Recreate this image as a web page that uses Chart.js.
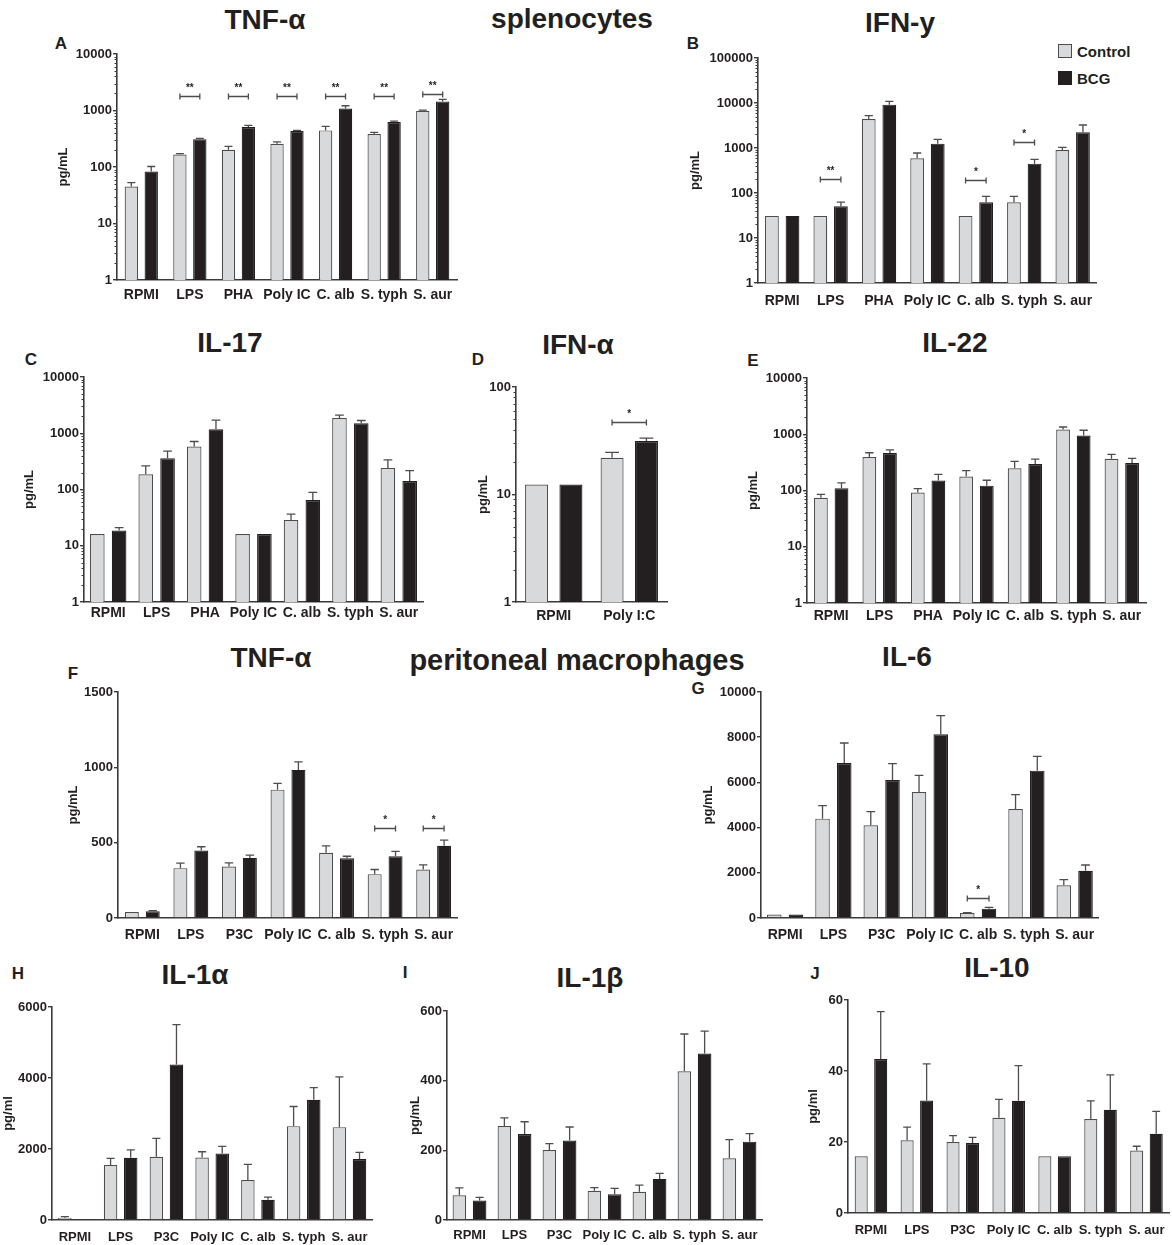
<!DOCTYPE html>
<html>
<head>
<meta charset="utf-8">
<script src="https://cdn.jsdelivr.net/npm/chart.js@4.4.1/dist/chart.umd.min.js"></script>
<style>
  html, body { margin: 0; padding: 0; background: #fff; }
  body { width: 1172px; height: 1245px; overflow: hidden; position: relative;
         font-family: "Liberation Sans", Arial, sans-serif; color: #231f20; }
  .box { position: absolute; }
  .t { position: absolute; font-weight: bold; font-size: 28px; line-height: 1;
       transform: translate(-50%, -50%); white-space: nowrap; }
  .l { position: absolute; font-weight: bold; font-size: 17px; line-height: 1;
       transform: translate(-50%, -50%); }
  .lg { position: absolute; font-weight: bold; font-size: 15px; line-height: 1;
        transform: translateY(-50%); white-space: nowrap; }
  .sw { position: absolute; width: 12px; height: 12px; border: 1px solid #4d4d4d; }
</style>
</head>
<body>

<div class="t" style="left:265px;top:20px">TNF-α</div>
<div class="t" style="left:572px;top:19px">splenocytes</div>
<div class="t" style="left:900px;top:23px">IFN-y</div>
<div class="t" style="left:230px;top:343px">IL-17</div>
<div class="t" style="left:578px;top:345px">IFN-α</div>
<div class="t" style="left:955px;top:343px">IL-22</div>
<div class="t" style="left:271px;top:658px">TNF-α</div>
<div class="t" style="left:577px;top:660px;font-size:29px">peritoneal macrophages</div>
<div class="t" style="left:907px;top:657px">IL-6</div>
<div class="t" style="left:195px;top:975px">IL-1α</div>
<div class="t" style="left:590px;top:978px">IL-1β</div>
<div class="t" style="left:997px;top:968px">IL-10</div>

<div class="l" style="left:61px;top:43px">A</div>
<div class="l" style="left:693px;top:43px">B</div>
<div class="l" style="left:31px;top:359px">C</div>
<div class="l" style="left:478px;top:359px">D</div>
<div class="l" style="left:753px;top:360px">E</div>
<div class="l" style="left:73px;top:673px">F</div>
<div class="l" style="left:698px;top:688px">G</div>
<div class="l" style="left:18px;top:973px">H</div>
<div class="l" style="left:405px;top:972px">I</div>
<div class="l" style="left:815px;top:973px">J</div>

<div class="sw" style="left:1058px;top:44px;background:#d8d9db"></div>
<div class="lg" style="left:1077px;top:51px">Control</div>
<div class="sw" style="left:1058px;top:71px;background:#231f20;border-color:#231f20"></div>
<div class="lg" style="left:1077px;top:78px">BCG</div>

<script>
// categories
const stimSpl = ['RPMI', 'LPS', 'PHA', 'Poly IC', 'C. alb', 'S. typh', 'S. aur'];
const stimMac = ['RPMI', 'LPS', 'P3C', 'Poly IC', 'C. alb', 'S. typh', 'S. aur'];
const stimIfna = ['RPMI', 'Poly I:C'];

// y tick labels
const log2 = [1, 10, 100];
const log4 = [1, 10, 100, 1000, 10000];
const log5 = [1, 10, 100, 1000, 10000, 100000];
const tnfMacTicks = [0, 500, 1000, 1500];
const il6Ticks = [0, 2000, 4000, 6000, 8000, 10000];
const il1aTicks = [0, 2000, 4000, 6000];
const il1bTicks = [0, 200, 400, 600];
const il10Ticks = [0, 20, 40, 60];

// A TNF-a splenocytes (mean, top of error bar)
const tnfCtrl = [45, 166, 201, 258, 444, 382, 990];
const tnfCtrlErr = [53, 172, 231, 279, 522, 409, 1016];
const tnfBcg = [83, 311, 508, 432, 1088, 623, 1449];
const tnfBcgErr = [102, 322, 544, 444, 1214, 649, 1573];
const tnfSig = [null, '**', '**', '**', '**', '**', '**'];
const tnfSigAt = [null, 1820, 1820, 1820, 1820, 1820, 1980];

// B IFN-y
const ifngCtrl = [31, 31, 4410, 590, 31, 62, 903];
const ifngCtrlErr = [null, null, 5230, 774, null, 84, 1035];
const ifngBcg = [31, 51, 9180, 1248, 62, 449, 2230];
const ifngBcgErr = [null, 63, 10900, 1560, 84, 560, 3245];
const ifngSig = [null, '**', null, null, '*', '*', null];
const ifngSigAt = [null, 205, null, null, 198, 1336, null];

// C IL-17
const il17Ctrl = [16.1, 186, 580, 16.1, 28.6, 1858, 242];
const il17CtrlErr = [null, 262, 713, null, 36.6, 2100, 336];
const il17Bcg = [18.7, 360, 1183, 16.1, 65, 1513, 142];
const il17BcgErr = [21, 480, 1711, null, 89, 1686, 217];

// D IFN-a
const ifnaCtrl = [12.4, 22.0];
const ifnaCtrlErr = [null, 24.7];
const ifnaBcg = [12.4, 31.5];
const ifnaBcgErr = [null, 33.4];
const ifnaSig = [null, '*'];
const ifnaSigAt = [null, 47];

// E IL-22
const il22Ctrl = [74, 393, 92, 177, 248, 1209, 367];
const il22CtrlErr = [85, 469, 108, 225, 329, 1346, 438];
const il22Bcg = [110, 462, 150, 122, 296, 947, 308];
const il22BcgErr = [137, 529, 194, 152, 362, 1177, 372];

// F TNF-a peritoneal macrophages
const tnfMCtrl = [40, 331, 342, 852, 433, 291, 322];
const tnfMCtrlErr = [null, 364, 366, 894, 479, 322, 353];
const tnfMBcg = [44, 448, 399, 983, 397, 410, 479];
const tnfMBcgErr = [49, 473, 417, 1036, 410, 442, 517];
const tnfMSig = [null, null, null, null, null, '*', '*'];
const tnfMSigAt = [null, null, null, null, null, 595, 595];

// G IL-6
const il6Ctrl = [150, 4395, 4100, 5575, 221, 4823, 1445];
const il6CtrlErr = [null, 4970, 4705, 6313, 236, 5457, 1696];
const il6Bcg = [150, 6858, 6106, 8127, 413, 6519, 2094];
const il6BcgErr = [null, 7743, 6829, 8953, 472, 7153, 2345];
const il6Sig = [null, null, null, null, '*', null, null];
const il6SigAt = [null, null, null, null, 885, null, null];

// H IL-1a
const il1aCtrl = [66, 1547, 1781, 1762, 1125, 2644, 2616];
const il1aCtrlErr = [94, 1734, 2297, 1922, 1566, 3197, 4031];
const il1aBcg = [28, 1753, 4378, 1875, 572, 3384, 1716];
const il1aBcgErr = [null, 1978, 5503, 2072, 647, 3731, 1903];

// I IL-1b
const il1bCtrl = [71, 270, 201, 84, 81, 427, 177];
const il1bCtrlErr = [92, 293, 219, 93, 100, 534, 231];
const il1bBcg = [56, 247, 228, 74, 118, 478, 225];
const il1bBcgErr = [65, 282, 267, 91, 134, 542, 248];

// J IL-10
const il10Ctrl = [16, 20.5, 20.0, 26.8, 16, 26.5, 17.6];
const il10CtrlErr = [null, 24.2, 21.8, 32.0, null, 31.6, 18.8];
const il10Bcg = [43.4, 31.7, 19.7, 31.6, 16, 29.1, 22.3];
const il10BcgErr = [56.7, 42.0, 21.3, 41.5, null, 38.9, 28.6];

const FONT = '"Liberation Sans", Arial, sans-serif';
const INK = '#231f20';
const CTRL_FILL = '#d8d9db';
const CTRL_LINE = '#4d4d4d';
const AXIS = '#3a3a3a';
const YW = 80, XH = 34, PT = 14, PR = 4;

function makePanel(p) {
  const wrap = document.createElement('div');
  wrap.className = 'box';
  const w = p.R - p.L + YW + PR;
  const h = p.B - p.T + PT + XH;
  wrap.style.left = (p.L - YW) + 'px';
  wrap.style.top = (p.T - PT) + 'px';
  wrap.style.width = w + 'px';
  wrap.style.height = h + 'px';
  const cv = document.createElement('canvas');
  wrap.appendChild(cv);
  document.body.appendChild(wrap);
  const isLog = p.yType === 'logarithmic';
  const xFont = p.xFont || 14;

  // error bars, significance brackets and log minor ticks
  const extras = {
    id: 'extras' + p.id,
    afterDatasetsDraw(chart) {
      const ctx = chart.ctx;
      const y = chart.scales.y;
      ctx.save();
      ctx.strokeStyle = '#4d4d4d';
      ctx.lineWidth = 1.3;
      chart.data.datasets.forEach((ds, di) => {
        const meta = chart.getDatasetMeta(di);
        ds.err.forEach((e, i) => {
          if (e == null) return;
          const bar = meta.data[i];
          const yt = y.getPixelForValue(e);
          const cap = bar.width * 0.3;
          ctx.beginPath();
          ctx.moveTo(bar.x, bar.y);
          ctx.lineTo(bar.x, yt);
          ctx.moveTo(bar.x - cap, yt);
          ctx.lineTo(bar.x + cap, yt);
          ctx.stroke();
        });
      });
      if (p.sig) {
        const m0 = chart.getDatasetMeta(0), m1 = chart.getDatasetMeta(1);
        ctx.fillStyle = INK;
        ctx.font = 'bold 10px ' + FONT;
        ctx.textAlign = 'center';
        ctx.textBaseline = 'bottom';
        p.sig.forEach((s, i) => {
          if (!s) return;
          const a = m0.data[i].x, b = m1.data[i].x;
          const py = Math.round(y.getPixelForValue(p.sigAt[i])) + 0.5;
          ctx.beginPath();
          ctx.moveTo(a, py); ctx.lineTo(b, py);
          ctx.moveTo(a, py - 3); ctx.lineTo(a, py + 3);
          ctx.moveTo(b, py - 3); ctx.lineTo(b, py + 3);
          ctx.stroke();
          ctx.fillText(s, (a + b) / 2, py - 3);
        });
      }
      if (isLog) {
        const x0 = chart.chartArea.left;
        ctx.strokeStyle = AXIS;
        ctx.lineWidth = 1;
        ctx.beginPath();
        for (let d = 1; d < p.max; d *= 10) {
          for (let k = 2; k <= 9; k++) {
            const py = Math.round(y.getPixelForValue(k * d)) + 0.5;
            ctx.moveTo(x0 - 2.5, py);
            ctx.lineTo(x0, py);
          }
        }
        ctx.stroke();
      }
      ctx.restore();
    }
  };

  new Chart(cv, {
    type: 'bar',
    data: {
      labels: p.labels,
      datasets: [
        { label: 'Control', data: p.ctrl, err: p.ctrlErr, backgroundColor: CTRL_FILL,
          borderColor: CTRL_LINE, borderWidth: 1.2 },
        { label: 'BCG', data: p.bcg, err: p.bcgErr, backgroundColor: INK,
          borderColor: INK, borderWidth: 1.2 }
      ]
    },
    options: {
      responsive: true,
      maintainAspectRatio: false,
      animation: false,
      layout: { padding: { left: 0, top: PT, right: PR, bottom: 0 } },
      datasets: { bar: { categoryPercentage: p.cat, barPercentage: 0.67 } },
      plugins: { legend: { display: false }, tooltip: { enabled: false } },
      scales: {
        x: {
          grid: { display: false, drawTicks: false },
          border: { display: true, color: AXIS, width: 1.6 },
          ticks: { color: INK, font: { family: FONT, size: xFont, weight: 'bold' },
                   padding: p.labY - p.B - xFont * 0.6, maxRotation: 0, autoSkip: false },
          afterFit: s => { s.height = XH; }
        },
        y: {
          type: p.yType,
          min: p.min,
          max: p.max,
          grid: { display: true, drawOnChartArea: false, drawTicks: true, tickLength: 4,
                  color: AXIS, lineWidth: 1.4 },
          border: { display: true, color: AXIS, width: 1.6 },
          ticks: { color: INK, font: { family: FONT, size: 13, weight: 'bold' }, padding: 1,
                   callback: v => String(v) },
          afterBuildTicks: s => { s.ticks = p.yTicks.map(v => ({ value: v })); },
          title: { display: true, text: p.yTitle, color: INK,
                   font: { family: FONT, size: 13, weight: 'bold' },
                   padding: { top: YW - p.yOff - 7.8, bottom: 0 } },
          afterFit: s => { s.width = YW; }
        }
      }
    },
    plugins: [extras]
  });
}

const panels = [
  { id: 'A', L: 117, T: 54, R: 457, B: 280, yOff: 54, labY: 295, cat: 0.82,
    yType: 'logarithmic', min: 1, max: 10000, yTicks: log4, yTitle: 'pg/mL', labels: stimSpl,
    ctrl: tnfCtrl, ctrlErr: tnfCtrlErr, bcg: tnfBcg, bcgErr: tnfBcgErr, sig: tnfSig, sigAt: tnfSigAt },
  { id: 'B', L: 758, T: 58, R: 1098, B: 283, yOff: 63, labY: 301, cat: 0.85,
    yType: 'logarithmic', min: 1, max: 100000, yTicks: log5, yTitle: 'pg/mL', labels: stimSpl,
    ctrl: ifngCtrl, ctrlErr: ifngCtrlErr, bcg: ifngBcg, bcgErr: ifngBcgErr, sig: ifngSig, sigAt: ifngSigAt },
  { id: 'C', L: 84, T: 377, R: 423, B: 602, yOff: 55, labY: 613, cat: 0.9,
    yType: 'logarithmic', min: 1, max: 10000, yTicks: log4, yTitle: 'pg/mL', labels: stimSpl,
    ctrl: il17Ctrl, ctrlErr: il17CtrlErr, bcg: il17Bcg, bcgErr: il17BcgErr },
  { id: 'D', L: 516, T: 387, R: 667, B: 602, yOff: 33, labY: 616, cat: 0.91,
    yType: 'logarithmic', min: 1, max: 100, yTicks: log2, yTitle: 'pg/mL', labels: stimIfna,
    ctrl: ifnaCtrl, ctrlErr: ifnaCtrlErr, bcg: ifnaBcg, bcgErr: ifnaBcgErr, sig: ifnaSig, sigAt: ifnaSigAt },
  { id: 'E', L: 807, T: 378, R: 1146, B: 603, yOff: 54, labY: 616, cat: 0.85,
    yType: 'logarithmic', min: 1, max: 10000, yTicks: log4, yTitle: 'pg/mL', labels: stimSpl,
    ctrl: il22Ctrl, ctrlErr: il22CtrlErr, bcg: il22Bcg, bcgErr: il22BcgErr },
  { id: 'F', L: 118, T: 692, R: 458, B: 918, yOff: 45, labY: 935, cat: 0.86,
    yType: 'linear', min: 0, max: 1500, yTicks: tnfMacTicks, yTitle: 'pg/mL', labels: stimMac,
    ctrl: tnfMCtrl, ctrlErr: tnfMCtrlErr, bcg: tnfMBcg, bcgErr: tnfMBcgErr, sig: tnfMSig, sigAt: tnfMSigAt },
  { id: 'G', L: 761, T: 692, R: 1099, B: 918, yOff: 53, labY: 935, cat: 0.9,
    yType: 'linear', min: 0, max: 10000, yTicks: il6Ticks, yTitle: 'pg/mL', labels: stimMac,
    ctrl: il6Ctrl, ctrlErr: il6CtrlErr, bcg: il6Bcg, bcgErr: il6BcgErr, sig: il6Sig, sigAt: il6SigAt },
  { id: 'H', L: 52, T: 1007, R: 373, B: 1220, yOff: 44, labY: 1237, cat: 0.88, xFont: 13,
    yType: 'linear', min: 0, max: 6000, yTicks: il1aTicks, yTitle: 'pg/ml', labels: stimMac,
    ctrl: il1aCtrl, ctrlErr: il1aCtrlErr, bcg: il1aBcg, bcgErr: il1aBcgErr },
  { id: 'I', L: 447, T: 1011, R: 762, B: 1220, yOff: 32, labY: 1235, cat: 0.9, xFont: 13,
    yType: 'linear', min: 0, max: 600, yTicks: il1bTicks, yTitle: 'pg/mL', labels: stimMac,
    ctrl: il1bCtrl, ctrlErr: il1bCtrlErr, bcg: il1bBcg, bcgErr: il1bBcgErr },
  { id: 'J', L: 848, T: 1000, R: 1170, B: 1213, yOff: 35, labY: 1230, cat: 0.85, xFont: 13,
    yType: 'linear', min: 0, max: 60, yTicks: il10Ticks, yTitle: 'pg/ml', labels: stimMac,
    ctrl: il10Ctrl, ctrlErr: il10CtrlErr, bcg: il10Bcg, bcgErr: il10BcgErr }
];

panels.forEach(makePanel);
</script>
</body>
</html>
